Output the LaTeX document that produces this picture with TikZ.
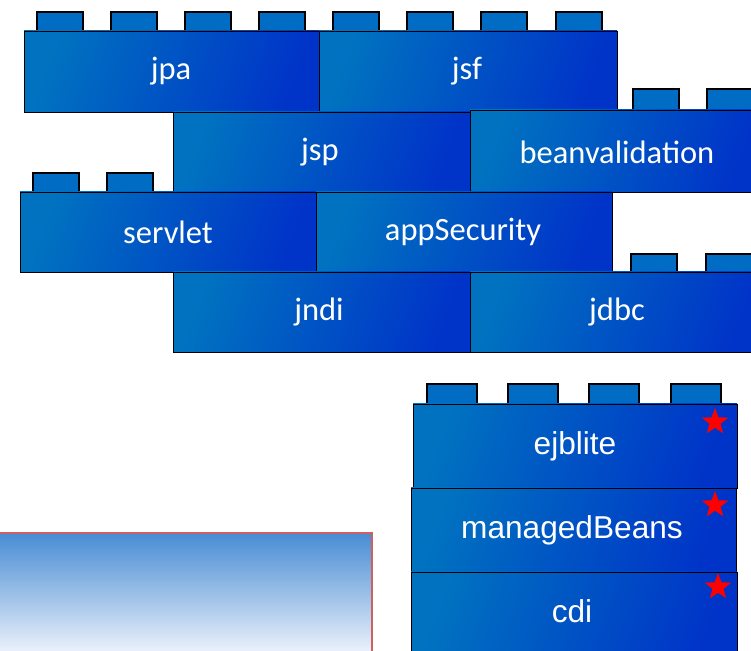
\documentclass[tikz,border=0pt]{standalone}
\usepackage{fontspec}
\setsansfont{Carlito}
\newfontfamily\arialfont{Liberation Sans}
\usepackage{tikz}
\usetikzlibrary{shapes.geometric}
\definecolor{brickLight}{RGB}{0,114,192}
\definecolor{brickDark}{RGB}{0,52,200}
\definecolor{studBlue}{RGB}{0,108,196}
\definecolor{skyTop}{RGB}{72,140,212}
\definecolor{skyBottom}{RGB}{246,248,253}
\definecolor{boxRed}{RGB}{206,96,96}
\tikzset{
  brick/.style={left color=brickLight, right color=brickDark, shading angle=70, draw=black, line width=0.5pt},
  stud/.style={fill=studBlue, draw=black, line width=1.1pt},
  brickname/.style={text=white, font=\sffamily\fontsize{18.5}{20}\selectfont},
  beanname/.style={text=white, font=\arialfont\fontsize{18}{20}\selectfont},
  redstar/.style={star, star points=5, star point ratio=2.4, fill=red, inner sep=0pt, minimum size=0.56cm}
}

\begin{document}
\begin{tikzpicture}[x=0.02cm, y=-0.02cm]

  \clip (0,0) rectangle (751,651);

  \foreach \x in {37,111,185,259,333,407,481,556}
    \filldraw [stud] (\x,12) rectangle ++(46,20);
  \foreach \x in {33,107}
    \filldraw [stud] (\x,173) rectangle ++(46,20);
  \foreach \x in {633,707}
    \filldraw [stud] (\x,89) rectangle ++(46,22);
  \foreach \x in {631,706}
    \filldraw [stud] (\x,254) rectangle ++(46,19);
  \foreach \x in {427,508,589,671}
    \filldraw [stud] (\x,384) rectangle ++(50,21);

  \shadedraw [brick] (24,31) rectangle (319,112);
  \shadedraw [brick] (319,31) rectangle (617,112);
  \shadedraw [brick] (173,112) rectangle (470,192);
  \shadedraw [brick] (470,110) rectangle (764,192);
  \shadedraw [brick] (20,192) rectangle (316,272);
  \shadedraw [brick] (316,192) rectangle (612,272);
  \shadedraw [brick] (173,272) rectangle (470,352);
  \shadedraw [brick] (470,272) rectangle (764,352);

  \node [brickname] (jpa) at (171,71) {jpa};
  \node [brickname] (jsf) at (467,71) {jsf};
  \node [brickname] (jsp) at (320,152) {jsp};
  \node [brickname] (beanval) at (617,152) {beanvalidation};
  \node [brickname] (servlet) at (168,232) {servlet};
  \node [brickname] (appsec) at (463,232) {appSecurity};
  \node [brickname] (jndi) at (319,312) {jndi};
  \node [brickname] (jdbc) at (617,312) {jdbc};

  \shadedraw [brick] (413,404) rectangle (737,488);
  \shadedraw [brick] (411,488) rectangle (736,572);
  \shadedraw [brick] (411,572) rectangle (737,660);

  \node [beanname] (ejblite) at (575,446) {ejblite};
  \node [beanname] (mbeans) at (572,530) {managedBeans};
  \node [beanname] (cdi) at (572,611) {cdi};

  \node [redstar] (starEjb) at (715,422) {};
  \node [redstar] (starMb) at (715,505) {};
  \node [redstar] (starCdi) at (718,587) {};

  \shadedraw [top color=skyTop, bottom color=skyBottom, draw=boxRed, line width=1pt] (-5,533) rectangle (372,660);
\end{tikzpicture}
\end{document}
